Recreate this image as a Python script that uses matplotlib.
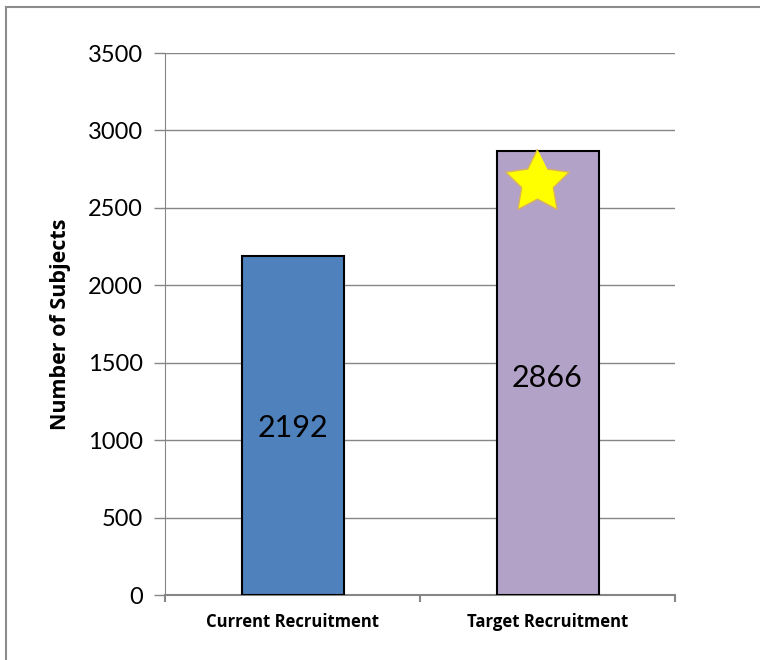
import numpy as np
import matplotlib.pyplot as plt
from matplotlib.lines import Line2D

categories = ["Current Recruitment", "Target Recruitment"]
subjects = [2192, 2866]
bar_colors = ["#4F81BD", "#B3A2C7"]
label_values = [1078, 1401]  # where the value labels sit inside the bars
yticks = [0, 500, 1000, 1500, 2000, 2500, 3000, 3500]

plt.rcParams['font.family'] = ['Lato', 'DejaVu Sans']
bold_font = ['Open Sans', 'DejaVu Sans']

fig = plt.figure(figsize=(7.6, 6.6), dpi=100)
ax = fig.add_axes([165 / 760, 65 / 660, 510 / 760, 542 / 660])

x = list(range(len(categories)))
ax.bar(x, subjects, width=0.4, color=bar_colors, edgecolor="black", linewidth=1.5, zorder=3)

for xi, v, ly in zip(x, subjects, label_values):
    ax.text(xi, ly, str(v), ha="center", va="center", fontsize=22, zorder=4)

# a plump five point star shape for the marker
ang = np.pi / 2 + np.arange(10) * np.pi / 5
rad = np.where(np.arange(10) % 2 == 0, 1.0, 0.5)
star = np.column_stack([rad * np.cos(ang), rad * np.sin(ang)])
ax.plot(x[1] - 0.04, subjects[1] - 200, marker=star, markersize=48,
        color="#FFFF00", markeredgecolor="#D8B060", markeredgewidth=1, zorder=5)

ax.set_xlim(-0.5, 1.5)
ax.set_ylim(0, 3500)
ax.set_yticks(yticks)
ax.set_xticks(x)
ax.set_xticklabels(categories, fontsize=12, fontweight="bold", family=bold_font)
ax.set_xticks([-0.5, 0.5, 1.5], minor=True)
ax.tick_params(axis="x", which="major", length=0, pad=13)
ax.tick_params(axis="x", which="minor", length=5, color="#868686", width=1.5, direction="out")
ax.tick_params(axis="y", length=8, color="#868686", width=1, labelsize=17, pad=8)
ax.set_ylabel("Number of Subjects", fontsize=15.5, fontweight="bold", family=bold_font, labelpad=12)

ax.grid(axis="y", color="#868686", linewidth=1, zorder=0)
for s in ["top", "right"]:
    ax.spines[s].set_visible(False)
ax.spines["left"].set_color("#868686")
ax.spines["bottom"].set_color("#868686")
ax.spines["bottom"].set_linewidth(1.5)

# partial frame around the chart area
fig.add_artist(Line2D([6 / 760, 6 / 760], [0, 1 - 7 / 660], color="#8C8C8C", linewidth=1.5))
fig.add_artist(Line2D([6 / 760, 1], [1 - 7 / 660, 1 - 7 / 660], color="#8C8C8C", linewidth=1.5))

fig.savefig("out.png", dpi=100)
